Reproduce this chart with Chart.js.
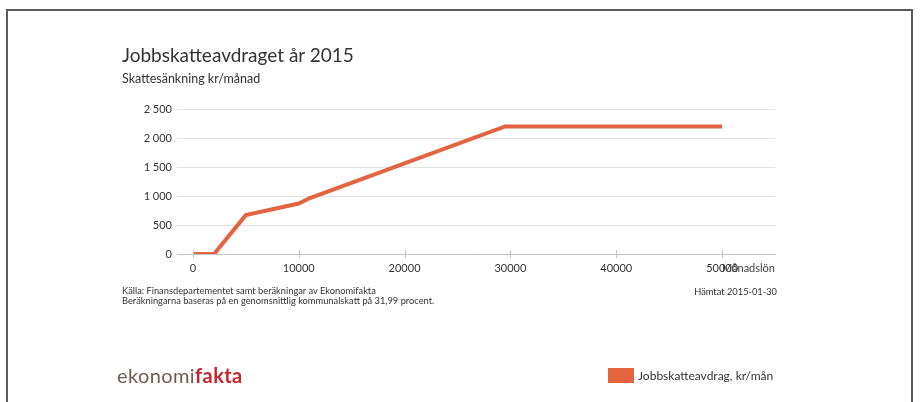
<!DOCTYPE html>
<html lang="sv">
<head>
<meta charset="utf-8">
<title>Jobbskatteavdraget år 2015</title>
<script src="https://cdn.jsdelivr.net/npm/chart.js@4"></script>
<style>
  html, body { margin: 0; padding: 0; background: #fff; }
  body { width: 921px; height: 402px; position: relative; overflow: hidden; font-family: Lato, "Liberation Sans", sans-serif; color: #333; }
  .frame { position: absolute; left: 6px; top: 9px; width: 903px; height: 420px; border: 2px solid #5a5a5a; }
  #chart { position: absolute; left: 0; top: 0; }
  .txt { position: absolute; white-space: nowrap; }
  .title { left: 122px; top: 43px; font-size: 19px; color: #333; }
  .subtitle { left: 122px; top: 71px; font-size: 12.5px; color: #333; }
  .source { left: 122px; top: 286px; font-size: 9.3px; line-height: 10px; color: #333; }
  .fetched { right: 144px; top: 286px; font-size: 9.3px; color: #333; }
  .xtitle { right: 146px; top: 261px; font-size: 11px; color: #444; }
  .logo { left: 117px; top: 363px; font-size: 20px; letter-spacing: 0.4px; }
  .logo .a { color: #6e5d50; }
  .logo .b { color: #c7252d; font-weight: bold; }
  .legend { left: 608px; top: 368px; font-size: 12px; color: #333; display: flex; align-items: center; }
  .legend i { display: inline-block; width: 26px; height: 15px; margin-right: 4px; }
</style>
</head>
<body>
<div class="frame"></div>
<canvas id="chart" width="921" height="402"></canvas>
<div class="txt title">Jobbskatteavdraget år 2015</div>
<div class="txt subtitle">Skattesänkning kr/månad</div>
<div class="txt xtitle">Månadslön</div>
<div class="txt source">Källa: Finansdepartementet samt beräkningar av Ekonomifakta<br>Beräkningarna baseras på en genomsnittlig kommunalskatt på 31,99 procent.</div>
<div class="txt fetched">Hämtat 2015-01-30</div>
<div class="txt logo"><span class="a">ekonomi</span><span class="b">fakta</span></div>
<div class="txt legend" id="legend"></div>
<script>
// Månadslön (kr) och jobbskatteavdrag (kr/mån)
const salaries = [0, 2000, 5000, 10000, 11000, 29500, 50000];
const taxCut = [0, 0, 670, 870, 960, 2200, 2200];
const xTicks = [0, 10000, 20000, 30000, 40000, 50000];
const yTicks = [0, 500, 1000, 1500, 2000, 2500];
const seriesLabel = 'Jobbskatteavdrag, kr/mån';
const lineColor = '#e4643f';

const fontFamily = 'Lato, "Liberation Sans", sans-serif';

// tunna streck som korsar x-axeln vid varje tick
const axisTicks = {
    id: 'axisTicks',
    afterDraw(chart) {
        const x = chart.scales.x;
        const ctx = chart.ctx;
        ctx.save();
        ctx.strokeStyle = '#c4c4c4';
        ctx.lineWidth = 1;
        x.ticks.forEach(t => {
            const px = Math.round(x.getPixelForValue(t.value)) + 0.5;
            ctx.beginPath();
            ctx.moveTo(px, x.top - 4);
            ctx.lineTo(px, x.top + 4);
            ctx.stroke();
        });
        ctx.restore();
    }
};

function spaced(v) {
    return String(v).replace(/\B(?=(\d{3})+(?!\d))/g, ' ');
}

const chart = new Chart(document.getElementById('chart'), {
    type: 'line',
    data: {
        datasets: [{
            label: seriesLabel,
            data: salaries.map((s, i) => ({ x: s, y: taxCut[i] })),
            borderColor: lineColor,
            backgroundColor: lineColor,
            borderWidth: 4,
            pointRadius: 0,
            tension: 0
        }]
    },
    options: {
        responsive: false,
        animation: false,
        layout: { padding: { left: 0, top: 109, right: 146, bottom: 118 } },
        plugins: {
            legend: { display: false },
            tooltip: { enabled: false }
        },
        scales: {
            x: {
                type: 'linear',
                min: -1500,
                max: 55000,
                afterBuildTicks: scale => { scale.ticks = xTicks.map(v => ({ value: v })); },
                afterFit: scale => { scale.height = 30; },
                grid: { display: false },
                border: { display: true, color: '#c4c4c4', width: 1 },
                ticks: {
                    autoSkip: false,
                    maxRotation: 0,
                    padding: 0,
                    color: '#333',
                    font: { family: fontFamily, size: 11 },
                    callback: v => String(v)
                }
            },
            y: {
                min: 0,
                max: 2500,
                afterBuildTicks: scale => { scale.ticks = yTicks.map(v => ({ value: v })); },
                afterFit: scale => { scale.width = 177; },
                grid: { color: '#e2e2e2', drawTicks: false },
                border: { display: false },
                ticks: {
                    padding: 5,
                    color: '#333',
                    font: { family: fontFamily, size: 11 },
                    callback: v => spaced(v)
                }
            }
        }
    },
    plugins: [axisTicks]
});

// förklaring under diagrammet
const legend = document.getElementById('legend');
chart.data.datasets.forEach(ds => {
    const box = document.createElement('i');
    box.style.background = ds.borderColor;
    legend.appendChild(box);
    legend.appendChild(document.createTextNode(ds.label));
});
</script>
</body>
</html>
